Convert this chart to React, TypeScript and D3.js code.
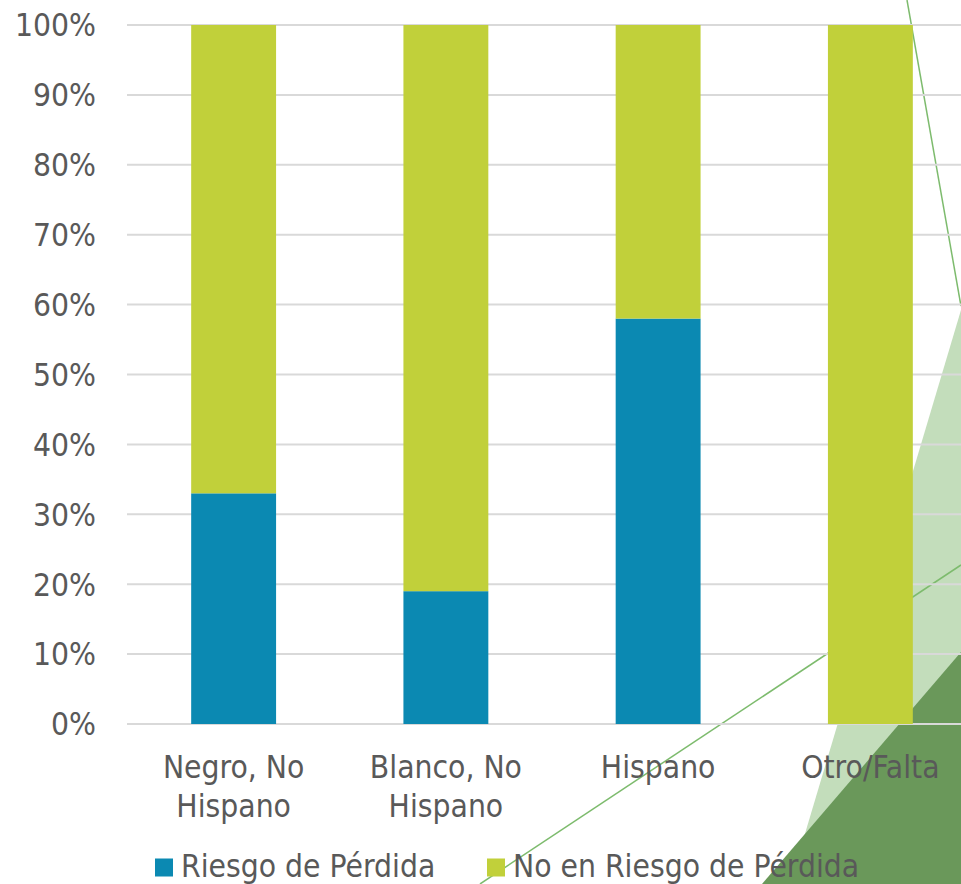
import React from "react";
import * as d3 from "d3";

// Categories and stacked shares (percent)
const categories = ["Negro, No Hispano", "Blanco, No Hispano", "Hispano", "Otro/Falta"];
const categoryLines = [["Negro, No", "Hispano"], ["Blanco, No", "Hispano"], ["Hispano"], ["Otro/Falta"]];
const riesgo = [33, 19, 58, 0];
const noRiesgo = [67, 81, 42, 100];
const seriesNames = ["Riesgo de Pérdida", "No en Riesgo de Pérdida"];
const seriesColors = ["#0b89b2", "#c1d03a"];
const yTicks = [0, 10, 20, 30, 40, 50, 60, 70, 80, 90, 100];

const W = 961;
const H = 884;
const FONT = "'DejaVu Sans Condensed', 'DejaVu Sans', sans-serif";
const TEXT = "#595959";

export default function App() {
  const x = d3
    .scaleBand<string>()
    .domain(categories)
    .range([127.5, 976.5])
    .paddingInner(0.6)
    .paddingOuter(0.3);
  const y = d3.scaleLinear().domain([0, 100]).range([724, 25]);

  const rows = categories.map((c, i) => ({ cat: c, riesgo: riesgo[i], noRiesgo: noRiesgo[i] }));
  const stack = d3.stack<any>().keys(["riesgo", "noRiesgo"])(rows);

  return (
    <svg
      width={W}
      height={H}
      style={{ position: "absolute", left: 0, top: 0, display: "block", background: "#fff" }}
      fontFamily={FONT}
    >
      {/* background slide ornaments */}
      <polygon points="961,310 790,884 961,884" fill="#c3ddbb" />
      <polygon points="961,652 762,884 961,884" fill="#6a985a" />
      <line x1={907} y1={0} x2={961} y2={306} stroke="#7dbb6d" strokeWidth={1.5} />
      <line x1={480} y1={884} x2={961} y2={565} stroke="#7dbb6d" strokeWidth={1.5} />

      {/* gridlines */}
      {yTicks.map((t) => (
        <line key={t} x1={127} x2={961} y1={y(t)} y2={y(t)} stroke="#d9d9d9" strokeWidth={2} />
      ))}

      {/* stacked bars */}
      {stack.map((layer, si) =>
        layer.map((d, i) => (
          <rect
            key={`${si}-${i}`}
            x={x(categories[i])}
            width={x.bandwidth()}
            y={y(d[1])}
            height={Math.max(0, y(d[0]) - y(d[1]))}
            fill={seriesColors[si]}
          />
        ))
      )}

      {/* y-axis labels */}
      {yTicks.map((t) => (
        <text
          key={t}
          x={96}
          y={y(t)}
          dy="0.36em"
          textAnchor="end"
          fontSize={31.5}
          fill={TEXT}
        >
          {`${t}%`}
        </text>
      ))}

      {/* category labels */}
      {categories.map((c, i) => (
        <text
          key={c}
          x={(x(c) as number) + x.bandwidth() / 2}
          y={778}
          textAnchor="middle"
          fontSize={31.5}
          fill={TEXT}
        >
          {categoryLines[i].map((line, li) => (
            <tspan key={li} x={(x(c) as number) + x.bandwidth() / 2} dy={li === 0 ? 0 : 38.5}>
              {line}
            </tspan>
          ))}
        </text>
      ))}

      {/* legend */}
      {seriesNames.map((s, i) => {
        const lx = i === 0 ? 155 : 487;
        return (
          <g key={s}>
            <rect x={lx} y={858.5} width={18} height={18} fill={seriesColors[i]} />
            <text x={lx + 26} y={877} fontSize={31.5} fill={TEXT}>
              {s}
            </text>
          </g>
        );
      })}
    </svg>
  );
}
